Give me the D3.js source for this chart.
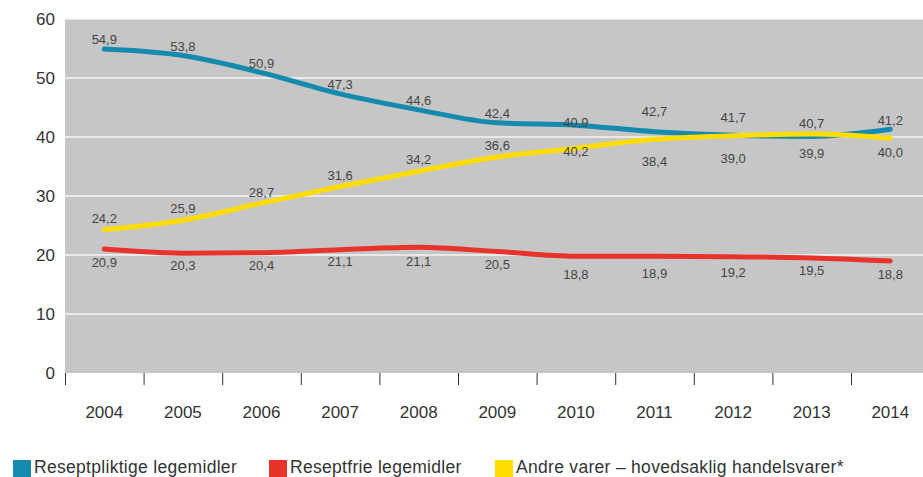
<!DOCTYPE html>
<html>
<head>
<meta charset="utf-8">
<script src="https://cdn.jsdelivr.net/npm/d3@7"></script>
<style>
body { margin:0; background:#fff; }
svg { display:block; font-family:"Liberation Sans", Arial, sans-serif; }
</style>
</head>
<body>
<div id="chart"></div>
<script>
var years = ['2004','2005','2006','2007','2008','2009','2010','2011','2012','2013','2014']
var yTicks = [0,10,20,30,40,50,60]

// line values as drawn
var resept = [54.9,53.8,50.9,47.3,44.6,42.4,42.0,40.9,40.3,40.1,41.3]
var reseptfrie = [21.0,20.3,20.4,20.9,21.3,20.6,19.8,19.8,19.7,19.5,19.0]
var andre = [24.3,25.9,28.8,31.6,34.2,36.6,38.1,39.6,40.2,40.5,39.8]

// printed labels
var reseptLab = ['54,9','53,8','50,9','47,3','44,6','42,4','40,9','42,7','41,7','40,7','41,2']
var reseptLabVal = [54.9,53.8,50.9,47.3,44.6,42.4,40.9,42.7,41.7,40.7,41.2]
var frieLab = ['20,9','20,3','20,4','21,1','21,1','20,5','18,8','18,9','19,2','19,5','18,8']
var frieLabVal = [20.9,20.3,20.4,21.1,21.1,20.5,18.8,18.9,19.2,19.5,18.8]
var andreLab = ['24,2','25,9','28,7','31,6','34,2','36,6','40,2','38,4','39,0','39,9','40,0']
var andreLabVal = [24.2,25.9,28.7,31.6,34.2,36.6,40.2,38.4,39.0,39.9,40.0]

var legendNames = ['Reseptpliktige legemidler','Reseptfrie legemidler','Andre varer – hovedsaklig handelsvarer*']
var colors = ['#1689ae','#e8332a','#ffdd00']

var W = 923, H = 477
var svg = d3.select('#chart').append('svg')
	.attr('width', W)
	.attr('height', H)

var x = d3.scaleBand().domain(years).range([65, 65 + 11*78.6])
var y = d3.scaleLinear().domain([0,60]).range([373, 19])

svg.append('rect')
	.attr('x', 65).attr('y', y(60))
	.attr('width', W - 65).attr('height', y(0) - y(60))
	.attr('fill', '#c6c6c6')

svg.selectAll('.grid').data(yTicks.slice(1)).enter().append('line')
	.attr('x1', 65).attr('x2', W)
	.attr('y1', function(d){ return y(d) }).attr('y2', function(d){ return y(d) })
	.attr('stroke', '#f4f4f4').attr('stroke-width', 1.5)

svg.selectAll('.ylab').data(yTicks).enter().append('text')
	.attr('x', 55)
	.attr('y', function(d){ return y(d) })
	.attr('dy', '0.35em')
	.attr('text-anchor', 'end')
	.attr('font-size', 17)
	.attr('fill', '#333')
	.text(function(d){ return d })

// x ticks at band edges
var edges = years.map(function(d){ return x(d) })
svg.selectAll('.xt').data(edges).enter().append('line')
	.attr('x1', function(d){ return d + 0.5 }).attr('x2', function(d){ return d + 0.5 })
	.attr('y1', 373).attr('y2', 385)
	.attr('stroke', '#333').attr('stroke-width', 1)

svg.selectAll('.xl').data(years).enter().append('text')
	.attr('x', function(d){ return x(d) + x.bandwidth()/2 })
	.attr('y', 418)
	.attr('text-anchor', 'middle')
	.attr('font-size', 17)
	.attr('fill', '#333')
	.text(function(d){ return d })

var line = d3.line()
	.x(function(d, i){ return x(years[i]) + x.bandwidth()/2 })
	.y(function(d){ return y(d) })
	.curve(d3.curveMonotoneX)

var order = [[reseptfrie, colors[1]], [resept, colors[0]], [andre, colors[2]]]
order.forEach(function(s){
	svg.append('path')
		.attr('d', line(s[0]))
		.attr('fill', 'none')
		.attr('stroke', s[1])
		.attr('stroke-width', 5)
		.attr('stroke-linecap', 'round')
		.attr('stroke-linejoin', 'round')
})

function labels(txt, vals, posFn) {
	svg.append('g').selectAll('text').data(txt).enter().append('text')
		.attr('x', function(d, i){ return x(years[i]) + x.bandwidth()/2 })
		.attr('y', function(d, i){ return posFn(vals[i], i) })
		.attr('text-anchor', 'middle')
		.attr('font-size', 13)
		.attr('fill', '#444')
		.text(function(d){ return d })
}
labels(reseptLab, reseptLabVal, function(v){ return y(v) - 5 })
labels(frieLab, frieLabVal, function(v){ return y(v) + 17 })
labels(andreLab, andreLabVal, function(v, i){ return i < 6 ? y(v) - 7 : y(v) + 20 })

// legend
var legX = [13, 269, 495]
legendNames.forEach(function(n, i){
	svg.append('rect')
		.attr('x', legX[i]).attr('y', 460)
		.attr('width', 18).attr('height', 17)
		.attr('fill', colors[i])
	svg.append('text')
		.attr('x', legX[i] + 21).attr('y', 473)
		.attr('font-size', 17.5)
		.attr('letter-spacing', 0.3)
		.attr('fill', '#333')
		.text(n)
})
</script>
</body>
</html>
